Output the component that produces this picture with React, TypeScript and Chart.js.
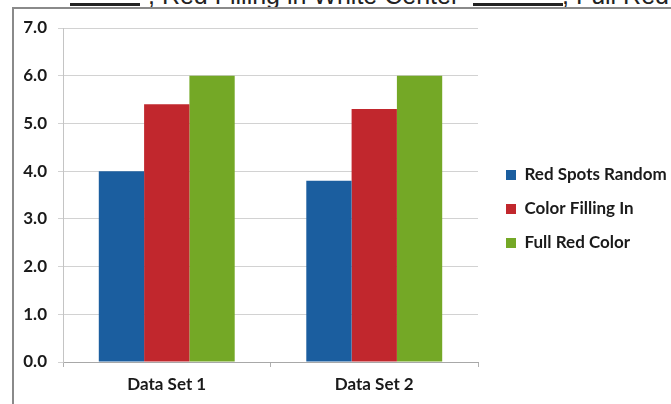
import React, { useEffect, useRef } from "react";
import { Chart, registerables } from "chart.js";

Chart.register(...registerables);

const categories = ["Data Set 1", "Data Set 2"];
const seriesNames = ["Red Spots Random", "Color Filling In", "Full Red Color"];
const redSpotsRandom = [4.0, 3.8];
const colorFillingIn = [5.4, 5.3];
const fullRedColor = [6.0, 6.0];
const yTickLabels = ["0.0", "1.0", "2.0", "3.0", "4.0", "5.0", "6.0", "7.0"];
const seriesColors = ["#1b5e9f", "#c1272d", "#74a826"];

const FONT = "Lato, 'Open Sans', sans-serif";
const FS = 17;

Chart.defaults.font.family = FONT;
Chart.defaults.font.size = FS;
Chart.defaults.font.weight = "bold";
Chart.defaults.color = "#1a1a1a";

export default function App() {
  const ref = useRef<HTMLCanvasElement | null>(null);

  useEffect(() => {
    document.body.style.margin = "0";
    const ctx = ref.current!.getContext("2d")!;
    const values = [redSpotsRandom, colorFillingIn, fullRedColor];
    const chart = new Chart(ctx, {
      type: "bar",
      data: {
        labels: categories,
        datasets: seriesNames.map((name, i) => ({
          label: name,
          data: values[i],
          backgroundColor: seriesColors[i],
          borderWidth: 0,
          categoryPercentage: 0.655,
          barPercentage: 1.0,
        })),
      },
      options: {
        animation: false,
        responsive: false,
        devicePixelRatio: 1,
        layout: { padding: { top: 14, bottom: 0, left: 0, right: 0 } },
        plugins: {
          tooltip: { enabled: false },
          legend: {
            position: "right",
            align: "center",
            maxWidth: 182,
            labels: {
              boxWidth: 10,
              boxHeight: 10,
              padding: 17,
              color: "#1a1a1a",
              font: { family: FONT, size: FS, weight: "bold" },
            },
          },
        },
        scales: {
          x: {
            grid: {
              display: true,
              offset: true,
              drawOnChartArea: false,
              drawTicks: true,
              tickLength: 5,
              color: "#b0b0b0",
            },
            border: { display: true, color: "#a8a8a8", width: 1 },
            ticks: {
              padding: 7,
              color: "#1a1a1a",
              font: { family: FONT, size: FS, weight: "bold" },
            },
            afterFit: (s: any) => {
              s.height = 42;
            },
          },
          y: {
            min: 0,
            max: 7,
            grid: {
              color: "#d2d2d2",
              tickLength: 5,
              lineWidth: 1,
            },
            border: { display: true, color: "#c4c4c4", width: 1 },
            ticks: {
              stepSize: 1,
              padding: 11,
              color: "#1a1a1a",
              font: { family: FONT, size: FS, weight: "bold" },
              callback: (_v: any, i: number) => yTickLabels[i],
            },
            afterFit: (s: any) => {
              s.width = 63;
            },
          },
          topSpacer: {
            type: "linear",
            position: "top",
            display: true,
            grid: { display: false, drawTicks: false },
            border: { display: false },
            ticks: { display: false },
            afterFit: (s: any) => {
              s.height = 14;
            },
          },
          rightSpacer: {
            type: "linear",
            position: "right",
            display: true,
            grid: { display: false, drawTicks: false },
            border: { display: false },
            ticks: { display: false },
            afterFit: (s: any) => {
              s.width = 11;
            },
          },
        },
      } as any,
    });
    return () => chart.destroy();
  }, []);

  const topText: React.CSSProperties = {
    position: "absolute",
    top: -19,
    fontFamily: "'Liberation Sans', Arial, sans-serif",
    fontSize: 25,
    lineHeight: "29px",
    color: "#222",
    whiteSpace: "nowrap",
  };
  const blank: React.CSSProperties = {
    position: "absolute",
    top: 3,
    height: 3,
    background: "#222",
  };

  return (
    <div
      style={{
        position: "relative",
        width: 671,
        height: 404,
        overflow: "hidden",
        background: "#fff",
      }}
    >
      <div style={{ ...blank, left: 70, width: 70 }} />
      <div style={{ ...topText, left: 148 }}>, Red Filling in White Center</div>
      <div style={{ ...blank, left: 473, width: 90 }} />
      <div style={{ ...topText, left: 562 }}>, Full Red Color</div>
      <div
        style={{
          position: "absolute",
          left: 12,
          top: 7,
          width: 700,
          height: 420,
          borderLeft: "2px solid #8a8a8a",
          borderTop: "2px solid #8a8a8a",
        }}
      />
      <canvas
        ref={ref}
        width={671}
        height={404}
        style={{ position: "absolute", left: 0, top: 0, width: 671, height: 404 }}
      />
    </div>
  );
}
